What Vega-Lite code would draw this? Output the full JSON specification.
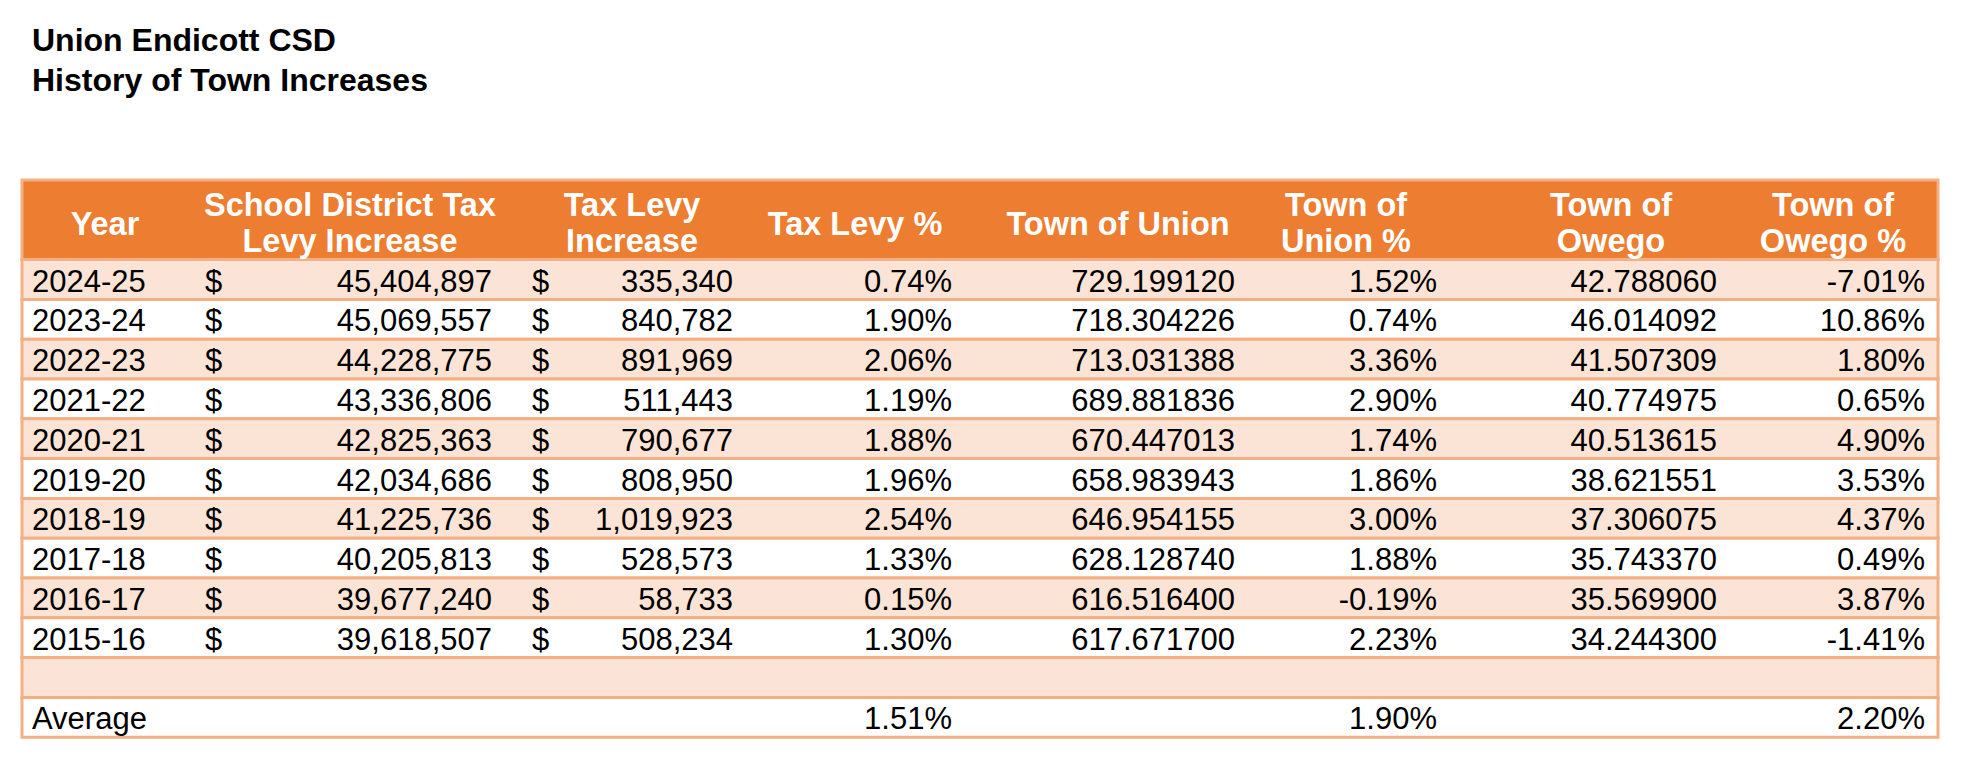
{
  "$schema": "https://vega.github.io/schema/vega-lite/v6.json",
  "width": 1962,
  "height": 762,
  "autosize": "none",
  "padding": 0,
  "background": "white",
  "config": {
    "view": {"stroke": null},
    "font": "Liberation Sans",
    "locale": {"number": {"decimal": ".", "thousands": ",", "grouping": [3], "currency": ["$", ""], "minus": "-"}}
  },
  "datasets": {
    "table": [
      {"Year": "2024-25", "District": 45404897, "Levy": 335340, "LevyPct": 0.0074, "Union": 729.19912, "UnionPct": 0.0152, "Owego": 42.78806, "OwegoPct": -0.0701},
      {"Year": "2023-24", "District": 45069557, "Levy": 840782, "LevyPct": 0.019, "Union": 718.304226, "UnionPct": 0.0074, "Owego": 46.014092, "OwegoPct": 0.1086},
      {"Year": "2022-23", "District": 44228775, "Levy": 891969, "LevyPct": 0.0206, "Union": 713.031388, "UnionPct": 0.0336, "Owego": 41.507309, "OwegoPct": 0.018},
      {"Year": "2021-22", "District": 43336806, "Levy": 511443, "LevyPct": 0.0119, "Union": 689.881836, "UnionPct": 0.029, "Owego": 40.774975, "OwegoPct": 0.0065},
      {"Year": "2020-21", "District": 42825363, "Levy": 790677, "LevyPct": 0.0188, "Union": 670.447013, "UnionPct": 0.0174, "Owego": 40.513615, "OwegoPct": 0.049},
      {"Year": "2019-20", "District": 42034686, "Levy": 808950, "LevyPct": 0.0196, "Union": 658.983943, "UnionPct": 0.0186, "Owego": 38.621551, "OwegoPct": 0.0353},
      {"Year": "2018-19", "District": 41225736, "Levy": 1019923, "LevyPct": 0.0254, "Union": 646.954155, "UnionPct": 0.03, "Owego": 37.306075, "OwegoPct": 0.0437},
      {"Year": "2017-18", "District": 40205813, "Levy": 528573, "LevyPct": 0.0133, "Union": 628.12874, "UnionPct": 0.0188, "Owego": 35.74337, "OwegoPct": 0.0049},
      {"Year": "2016-17", "District": 39677240, "Levy": 58733, "LevyPct": 0.0015, "Union": 616.5164, "UnionPct": -0.0019, "Owego": 35.5699, "OwegoPct": 0.0387},
      {"Year": "2015-16", "District": 39618507, "Levy": 508234, "LevyPct": 0.013, "Union": 617.6717, "UnionPct": 0.0223, "Owego": 34.2443, "OwegoPct": -0.0141},
      {"Year": ""},
      {"Year": "Average", "LevyPct": 0.0151, "UnionPct": 0.019, "OwegoPct": 0.022}
    ],
    "titles": [
      {"line": "T1", "text": "Union Endicott CSD"},
      {"line": "T2", "text": "History of Town Increases"}
    ],
    "headers": [
      {"column": "Year", "label": "Year"},
      {"column": "District", "label": "School District Tax\nLevy Increase"},
      {"column": "Levy", "label": "Tax Levy\nIncrease"},
      {"column": "LevyPct", "label": "Tax Levy %"},
      {"column": "Union", "label": "Town of Union"},
      {"column": "UnionPct", "label": "Town of\nUnion %"},
      {"column": "Owego", "label": "Town of\nOwego"},
      {"column": "OwegoPct", "label": "Town of\nOwego %"}
    ]
  },
  "layer": [
    {
      "data": {"values": [{"part": "header"}]},
      "mark": {"type": "rect", "fill": "#ED7D31", "stroke": "#F4B084", "strokeWidth": 3},
      "encoding": {
        "x": {"datum": 0, "type": "quantitative", "scale": {"domain": [0,1,2,3,4,5,6,7,8,9,10,11,12,13,14,15,16,17,18,19], "range": [22,32,105,205,350,492,532,632,733,855,952,1118,1235,1346,1437,1611,1717,1833,1925,1938], "nice": false, "zero": false}, "axis": null},
        "x2": {"datum": 19},
        "y": {"datum": "H1", "bandPosition": 0, "type": "nominal", "scale": {"type": "band", "domain": ["T1","T2","S1","S2","H1","H2","2024-25","2023-24","2022-23","2021-22","2020-21","2019-20","2018-19","2017-18","2016-17","2015-16","","Average"], "range": [20.8, 737.2], "paddingInner": 0, "paddingOuter": 0}, "axis": null},
        "y2": {"datum": "2024-25", "bandPosition": 0}
      }
    },
    {
      "data": {"name": "table"},
      "mark": {"type": "rect", "stroke": "#F4B084", "strokeWidth": 3},
      "encoding": {
        "x": {"datum": 0, "type": "quantitative", "scale": {"domain": [0,1,2,3,4,5,6,7,8,9,10,11,12,13,14,15,16,17,18,19], "range": [22,32,105,205,350,492,532,632,733,855,952,1118,1235,1346,1437,1611,1717,1833,1925,1938], "nice": false, "zero": false}, "axis": null},
        "x2": {"datum": 19},
        "y": {"field": "Year", "type": "nominal", "scale": {"type": "band", "domain": ["T1","T2","S1","S2","H1","H2","2024-25","2023-24","2022-23","2021-22","2020-21","2019-20","2018-19","2017-18","2016-17","2015-16","","Average"], "range": [20.8, 737.2], "paddingInner": 0, "paddingOuter": 0}, "axis": null},
        "fill": {"field": "Year", "type": "nominal", "legend": null, "scale": {"domain": ["2024-25","2023-24","2022-23","2021-22","2020-21","2019-20","2018-19","2017-18","2016-17","2015-16","","Average"], "range": ["#FBE4D5","#FFFFFF","#FBE4D5","#FFFFFF","#FBE4D5","#FFFFFF","#FBE4D5","#FFFFFF","#FBE4D5","#FFFFFF","#FBE4D5","#FFFFFF"]}}
      }
    },
    {
      "data": {"name": "titles"},
      "mark": {"type": "text", "align": "left", "baseline": "alphabetic", "dy": 10, "fontSize": 32, "fontWeight": "bold", "color": "#000000"},
      "encoding": {
        "x": {"datum": 1, "type": "quantitative", "scale": {"domain": [0,1,2,3,4,5,6,7,8,9,10,11,12,13,14,15,16,17,18,19], "range": [22,32,105,205,350,492,532,632,733,855,952,1118,1235,1346,1437,1611,1717,1833,1925,1938], "nice": false, "zero": false}, "axis": null},
        "y": {"field": "line", "type": "nominal", "scale": {"type": "band", "domain": ["T1","T2","S1","S2","H1","H2","2024-25","2023-24","2022-23","2021-22","2020-21","2019-20","2018-19","2017-18","2016-17","2015-16","","Average"], "range": [20.8, 737.2], "paddingInner": 0, "paddingOuter": 0}, "axis": null},
        "text": {"field": "text", "type": "nominal"}
      }
    },
    {"data": {"name": "headers"}, "transform": [{"filter": "datum.column == 'Year'"}], "mark": {"type": "text", "align": "center", "baseline": "middle", "dy": 25, "lineBreak": "\n", "lineHeight": 36, "fontSize": 32.5, "fontWeight": "bold", "color": "#FFFFFF"}, "encoding": {"x": {"datum": 2, "type": "quantitative", "scale": {"domain": [0,1,2,3,4,5,6,7,8,9,10,11,12,13,14,15,16,17,18,19], "range": [22,32,105,205,350,492,532,632,733,855,952,1118,1235,1346,1437,1611,1717,1833,1925,1938], "nice": false, "zero": false}, "axis": null}, "y": {"datum": "H1", "type": "nominal", "scale": {"type": "band", "domain": ["T1","T2","S1","S2","H1","H2","2024-25","2023-24","2022-23","2021-22","2020-21","2019-20","2018-19","2017-18","2016-17","2015-16","","Average"], "range": [20.8, 737.2], "paddingInner": 0, "paddingOuter": 0}, "axis": null}, "text": {"field": "label", "type": "nominal"}}},
    {"data": {"name": "headers"}, "transform": [{"filter": "datum.column == 'District'"}], "mark": {"type": "text", "align": "center", "baseline": "middle", "dy": 6, "lineBreak": "\n", "lineHeight": 36, "fontSize": 32.5, "fontWeight": "bold", "color": "#FFFFFF"}, "encoding": {"x": {"datum": 4, "type": "quantitative", "scale": {"domain": [0,1,2,3,4,5,6,7,8,9,10,11,12,13,14,15,16,17,18,19], "range": [22,32,105,205,350,492,532,632,733,855,952,1118,1235,1346,1437,1611,1717,1833,1925,1938], "nice": false, "zero": false}, "axis": null}, "y": {"datum": "H1", "type": "nominal", "scale": {"type": "band", "domain": ["T1","T2","S1","S2","H1","H2","2024-25","2023-24","2022-23","2021-22","2020-21","2019-20","2018-19","2017-18","2016-17","2015-16","","Average"], "range": [20.8, 737.2], "paddingInner": 0, "paddingOuter": 0}, "axis": null}, "text": {"field": "label", "type": "nominal"}}},
    {"data": {"name": "headers"}, "transform": [{"filter": "datum.column == 'Levy'"}], "mark": {"type": "text", "align": "center", "baseline": "middle", "dy": 6, "lineBreak": "\n", "lineHeight": 36, "fontSize": 32.5, "fontWeight": "bold", "color": "#FFFFFF"}, "encoding": {"x": {"datum": 7, "type": "quantitative", "scale": {"domain": [0,1,2,3,4,5,6,7,8,9,10,11,12,13,14,15,16,17,18,19], "range": [22,32,105,205,350,492,532,632,733,855,952,1118,1235,1346,1437,1611,1717,1833,1925,1938], "nice": false, "zero": false}, "axis": null}, "y": {"datum": "H1", "type": "nominal", "scale": {"type": "band", "domain": ["T1","T2","S1","S2","H1","H2","2024-25","2023-24","2022-23","2021-22","2020-21","2019-20","2018-19","2017-18","2016-17","2015-16","","Average"], "range": [20.8, 737.2], "paddingInner": 0, "paddingOuter": 0}, "axis": null}, "text": {"field": "label", "type": "nominal"}}},
    {"data": {"name": "headers"}, "transform": [{"filter": "datum.column == 'LevyPct'"}], "mark": {"type": "text", "align": "center", "baseline": "middle", "dy": 25, "lineBreak": "\n", "lineHeight": 36, "fontSize": 32.5, "fontWeight": "bold", "color": "#FFFFFF"}, "encoding": {"x": {"datum": 9, "type": "quantitative", "scale": {"domain": [0,1,2,3,4,5,6,7,8,9,10,11,12,13,14,15,16,17,18,19], "range": [22,32,105,205,350,492,532,632,733,855,952,1118,1235,1346,1437,1611,1717,1833,1925,1938], "nice": false, "zero": false}, "axis": null}, "y": {"datum": "H1", "type": "nominal", "scale": {"type": "band", "domain": ["T1","T2","S1","S2","H1","H2","2024-25","2023-24","2022-23","2021-22","2020-21","2019-20","2018-19","2017-18","2016-17","2015-16","","Average"], "range": [20.8, 737.2], "paddingInner": 0, "paddingOuter": 0}, "axis": null}, "text": {"field": "label", "type": "nominal"}}},
    {"data": {"name": "headers"}, "transform": [{"filter": "datum.column == 'Union'"}], "mark": {"type": "text", "align": "center", "baseline": "middle", "dy": 25, "lineBreak": "\n", "lineHeight": 36, "fontSize": 32.5, "fontWeight": "bold", "color": "#FFFFFF"}, "encoding": {"x": {"datum": 11, "type": "quantitative", "scale": {"domain": [0,1,2,3,4,5,6,7,8,9,10,11,12,13,14,15,16,17,18,19], "range": [22,32,105,205,350,492,532,632,733,855,952,1118,1235,1346,1437,1611,1717,1833,1925,1938], "nice": false, "zero": false}, "axis": null}, "y": {"datum": "H1", "type": "nominal", "scale": {"type": "band", "domain": ["T1","T2","S1","S2","H1","H2","2024-25","2023-24","2022-23","2021-22","2020-21","2019-20","2018-19","2017-18","2016-17","2015-16","","Average"], "range": [20.8, 737.2], "paddingInner": 0, "paddingOuter": 0}, "axis": null}, "text": {"field": "label", "type": "nominal"}}},
    {"data": {"name": "headers"}, "transform": [{"filter": "datum.column == 'UnionPct'"}], "mark": {"type": "text", "align": "center", "baseline": "middle", "dy": 6, "lineBreak": "\n", "lineHeight": 36, "fontSize": 32.5, "fontWeight": "bold", "color": "#FFFFFF"}, "encoding": {"x": {"datum": 13, "type": "quantitative", "scale": {"domain": [0,1,2,3,4,5,6,7,8,9,10,11,12,13,14,15,16,17,18,19], "range": [22,32,105,205,350,492,532,632,733,855,952,1118,1235,1346,1437,1611,1717,1833,1925,1938], "nice": false, "zero": false}, "axis": null}, "y": {"datum": "H1", "type": "nominal", "scale": {"type": "band", "domain": ["T1","T2","S1","S2","H1","H2","2024-25","2023-24","2022-23","2021-22","2020-21","2019-20","2018-19","2017-18","2016-17","2015-16","","Average"], "range": [20.8, 737.2], "paddingInner": 0, "paddingOuter": 0}, "axis": null}, "text": {"field": "label", "type": "nominal"}}},
    {"data": {"name": "headers"}, "transform": [{"filter": "datum.column == 'Owego'"}], "mark": {"type": "text", "align": "center", "baseline": "middle", "dy": 6, "lineBreak": "\n", "lineHeight": 36, "fontSize": 32.5, "fontWeight": "bold", "color": "#FFFFFF"}, "encoding": {"x": {"datum": 15, "type": "quantitative", "scale": {"domain": [0,1,2,3,4,5,6,7,8,9,10,11,12,13,14,15,16,17,18,19], "range": [22,32,105,205,350,492,532,632,733,855,952,1118,1235,1346,1437,1611,1717,1833,1925,1938], "nice": false, "zero": false}, "axis": null}, "y": {"datum": "H1", "type": "nominal", "scale": {"type": "band", "domain": ["T1","T2","S1","S2","H1","H2","2024-25","2023-24","2022-23","2021-22","2020-21","2019-20","2018-19","2017-18","2016-17","2015-16","","Average"], "range": [20.8, 737.2], "paddingInner": 0, "paddingOuter": 0}, "axis": null}, "text": {"field": "label", "type": "nominal"}}},
    {"data": {"name": "headers"}, "transform": [{"filter": "datum.column == 'OwegoPct'"}], "mark": {"type": "text", "align": "center", "baseline": "middle", "dy": 6, "lineBreak": "\n", "lineHeight": 36, "fontSize": 32.5, "fontWeight": "bold", "color": "#FFFFFF"}, "encoding": {"x": {"datum": 17, "type": "quantitative", "scale": {"domain": [0,1,2,3,4,5,6,7,8,9,10,11,12,13,14,15,16,17,18,19], "range": [22,32,105,205,350,492,532,632,733,855,952,1118,1235,1346,1437,1611,1717,1833,1925,1938], "nice": false, "zero": false}, "axis": null}, "y": {"datum": "H1", "type": "nominal", "scale": {"type": "band", "domain": ["T1","T2","S1","S2","H1","H2","2024-25","2023-24","2022-23","2021-22","2020-21","2019-20","2018-19","2017-18","2016-17","2015-16","","Average"], "range": [20.8, 737.2], "paddingInner": 0, "paddingOuter": 0}, "axis": null}, "text": {"field": "label", "type": "nominal"}}},
    {"data": {"name": "table"}, "mark": {"type": "text", "align": "left", "baseline": "alphabetic", "dy": 12, "fontSize": 31, "color": "#000000"}, "encoding": {"x": {"datum": 1, "type": "quantitative", "scale": {"domain": [0,1,2,3,4,5,6,7,8,9,10,11,12,13,14,15,16,17,18,19], "range": [22,32,105,205,350,492,532,632,733,855,952,1118,1235,1346,1437,1611,1717,1833,1925,1938], "nice": false, "zero": false}, "axis": null}, "y": {"field": "Year", "type": "nominal", "scale": {"type": "band", "domain": ["T1","T2","S1","S2","H1","H2","2024-25","2023-24","2022-23","2021-22","2020-21","2019-20","2018-19","2017-18","2016-17","2015-16","","Average"], "range": [20.8, 737.2], "paddingInner": 0, "paddingOuter": 0}, "axis": null}, "text": {"field": "Year", "type": "nominal"}}},
    {"data": {"name": "table"}, "transform": [{"filter": "isValid(datum.District)"}], "mark": {"type": "text", "text": "$", "align": "left", "baseline": "alphabetic", "dy": 12, "fontSize": 31, "color": "#000000"}, "encoding": {"x": {"datum": 3, "type": "quantitative", "scale": {"domain": [0,1,2,3,4,5,6,7,8,9,10,11,12,13,14,15,16,17,18,19], "range": [22,32,105,205,350,492,532,632,733,855,952,1118,1235,1346,1437,1611,1717,1833,1925,1938], "nice": false, "zero": false}, "axis": null}, "y": {"field": "Year", "type": "nominal", "scale": {"type": "band", "domain": ["T1","T2","S1","S2","H1","H2","2024-25","2023-24","2022-23","2021-22","2020-21","2019-20","2018-19","2017-18","2016-17","2015-16","","Average"], "range": [20.8, 737.2], "paddingInner": 0, "paddingOuter": 0}, "axis": null}}},
    {"data": {"name": "table"}, "transform": [{"filter": "isValid(datum.District)"}], "mark": {"type": "text", "align": "right", "baseline": "alphabetic", "dy": 12, "fontSize": 31, "color": "#000000"}, "encoding": {"x": {"datum": 5, "type": "quantitative", "scale": {"domain": [0,1,2,3,4,5,6,7,8,9,10,11,12,13,14,15,16,17,18,19], "range": [22,32,105,205,350,492,532,632,733,855,952,1118,1235,1346,1437,1611,1717,1833,1925,1938], "nice": false, "zero": false}, "axis": null}, "y": {"field": "Year", "type": "nominal", "scale": {"type": "band", "domain": ["T1","T2","S1","S2","H1","H2","2024-25","2023-24","2022-23","2021-22","2020-21","2019-20","2018-19","2017-18","2016-17","2015-16","","Average"], "range": [20.8, 737.2], "paddingInner": 0, "paddingOuter": 0}, "axis": null}, "text": {"field": "District", "type": "quantitative", "format": ","}}},
    {"data": {"name": "table"}, "transform": [{"filter": "isValid(datum.Levy)"}], "mark": {"type": "text", "text": "$", "align": "left", "baseline": "alphabetic", "dy": 12, "fontSize": 31, "color": "#000000"}, "encoding": {"x": {"datum": 6, "type": "quantitative", "scale": {"domain": [0,1,2,3,4,5,6,7,8,9,10,11,12,13,14,15,16,17,18,19], "range": [22,32,105,205,350,492,532,632,733,855,952,1118,1235,1346,1437,1611,1717,1833,1925,1938], "nice": false, "zero": false}, "axis": null}, "y": {"field": "Year", "type": "nominal", "scale": {"type": "band", "domain": ["T1","T2","S1","S2","H1","H2","2024-25","2023-24","2022-23","2021-22","2020-21","2019-20","2018-19","2017-18","2016-17","2015-16","","Average"], "range": [20.8, 737.2], "paddingInner": 0, "paddingOuter": 0}, "axis": null}}},
    {"data": {"name": "table"}, "transform": [{"filter": "isValid(datum.Levy)"}], "mark": {"type": "text", "align": "right", "baseline": "alphabetic", "dy": 12, "fontSize": 31, "color": "#000000"}, "encoding": {"x": {"datum": 8, "type": "quantitative", "scale": {"domain": [0,1,2,3,4,5,6,7,8,9,10,11,12,13,14,15,16,17,18,19], "range": [22,32,105,205,350,492,532,632,733,855,952,1118,1235,1346,1437,1611,1717,1833,1925,1938], "nice": false, "zero": false}, "axis": null}, "y": {"field": "Year", "type": "nominal", "scale": {"type": "band", "domain": ["T1","T2","S1","S2","H1","H2","2024-25","2023-24","2022-23","2021-22","2020-21","2019-20","2018-19","2017-18","2016-17","2015-16","","Average"], "range": [20.8, 737.2], "paddingInner": 0, "paddingOuter": 0}, "axis": null}, "text": {"field": "Levy", "type": "quantitative", "format": ","}}},
    {"data": {"name": "table"}, "transform": [{"filter": "isValid(datum.LevyPct)"}], "mark": {"type": "text", "align": "right", "baseline": "alphabetic", "dy": 12, "fontSize": 31, "color": "#000000"}, "encoding": {"x": {"datum": 10, "type": "quantitative", "scale": {"domain": [0,1,2,3,4,5,6,7,8,9,10,11,12,13,14,15,16,17,18,19], "range": [22,32,105,205,350,492,532,632,733,855,952,1118,1235,1346,1437,1611,1717,1833,1925,1938], "nice": false, "zero": false}, "axis": null}, "y": {"field": "Year", "type": "nominal", "scale": {"type": "band", "domain": ["T1","T2","S1","S2","H1","H2","2024-25","2023-24","2022-23","2021-22","2020-21","2019-20","2018-19","2017-18","2016-17","2015-16","","Average"], "range": [20.8, 737.2], "paddingInner": 0, "paddingOuter": 0}, "axis": null}, "text": {"field": "LevyPct", "type": "quantitative", "format": ".2%"}}},
    {"data": {"name": "table"}, "transform": [{"filter": "isValid(datum.Union)"}], "mark": {"type": "text", "align": "right", "baseline": "alphabetic", "dy": 12, "fontSize": 31, "color": "#000000"}, "encoding": {"x": {"datum": 12, "type": "quantitative", "scale": {"domain": [0,1,2,3,4,5,6,7,8,9,10,11,12,13,14,15,16,17,18,19], "range": [22,32,105,205,350,492,532,632,733,855,952,1118,1235,1346,1437,1611,1717,1833,1925,1938], "nice": false, "zero": false}, "axis": null}, "y": {"field": "Year", "type": "nominal", "scale": {"type": "band", "domain": ["T1","T2","S1","S2","H1","H2","2024-25","2023-24","2022-23","2021-22","2020-21","2019-20","2018-19","2017-18","2016-17","2015-16","","Average"], "range": [20.8, 737.2], "paddingInner": 0, "paddingOuter": 0}, "axis": null}, "text": {"field": "Union", "type": "quantitative", "format": ".6f"}}},
    {"data": {"name": "table"}, "transform": [{"filter": "isValid(datum.UnionPct)"}], "mark": {"type": "text", "align": "right", "baseline": "alphabetic", "dy": 12, "fontSize": 31, "color": "#000000"}, "encoding": {"x": {"datum": 14, "type": "quantitative", "scale": {"domain": [0,1,2,3,4,5,6,7,8,9,10,11,12,13,14,15,16,17,18,19], "range": [22,32,105,205,350,492,532,632,733,855,952,1118,1235,1346,1437,1611,1717,1833,1925,1938], "nice": false, "zero": false}, "axis": null}, "y": {"field": "Year", "type": "nominal", "scale": {"type": "band", "domain": ["T1","T2","S1","S2","H1","H2","2024-25","2023-24","2022-23","2021-22","2020-21","2019-20","2018-19","2017-18","2016-17","2015-16","","Average"], "range": [20.8, 737.2], "paddingInner": 0, "paddingOuter": 0}, "axis": null}, "text": {"field": "UnionPct", "type": "quantitative", "format": ".2%"}}},
    {"data": {"name": "table"}, "transform": [{"filter": "isValid(datum.Owego)"}], "mark": {"type": "text", "align": "right", "baseline": "alphabetic", "dy": 12, "fontSize": 31, "color": "#000000"}, "encoding": {"x": {"datum": 16, "type": "quantitative", "scale": {"domain": [0,1,2,3,4,5,6,7,8,9,10,11,12,13,14,15,16,17,18,19], "range": [22,32,105,205,350,492,532,632,733,855,952,1118,1235,1346,1437,1611,1717,1833,1925,1938], "nice": false, "zero": false}, "axis": null}, "y": {"field": "Year", "type": "nominal", "scale": {"type": "band", "domain": ["T1","T2","S1","S2","H1","H2","2024-25","2023-24","2022-23","2021-22","2020-21","2019-20","2018-19","2017-18","2016-17","2015-16","","Average"], "range": [20.8, 737.2], "paddingInner": 0, "paddingOuter": 0}, "axis": null}, "text": {"field": "Owego", "type": "quantitative", "format": ".6f"}}},
    {"data": {"name": "table"}, "transform": [{"filter": "isValid(datum.OwegoPct)"}], "mark": {"type": "text", "align": "right", "baseline": "alphabetic", "dy": 12, "fontSize": 31, "color": "#000000"}, "encoding": {"x": {"datum": 18, "type": "quantitative", "scale": {"domain": [0,1,2,3,4,5,6,7,8,9,10,11,12,13,14,15,16,17,18,19], "range": [22,32,105,205,350,492,532,632,733,855,952,1118,1235,1346,1437,1611,1717,1833,1925,1938], "nice": false, "zero": false}, "axis": null}, "y": {"field": "Year", "type": "nominal", "scale": {"type": "band", "domain": ["T1","T2","S1","S2","H1","H2","2024-25","2023-24","2022-23","2021-22","2020-21","2019-20","2018-19","2017-18","2016-17","2015-16","","Average"], "range": [20.8, 737.2], "paddingInner": 0, "paddingOuter": 0}, "axis": null}, "text": {"field": "OwegoPct", "type": "quantitative", "format": ".2%"}}}
  ]
}
